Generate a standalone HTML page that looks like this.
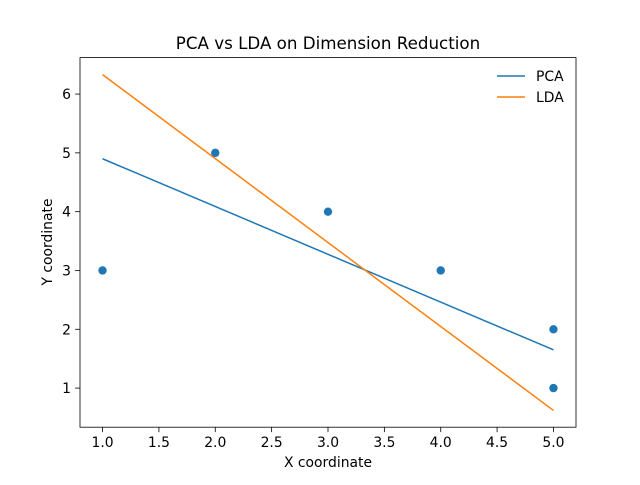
<!DOCTYPE html>
<html><head><meta charset="utf-8"><style>
body{margin:0;background:#fff;}
svg{font-family:"DejaVu Sans","Liberation Sans",sans-serif;}
</style></head><body>
<svg id="chart" width="640" height="480" xmlns="http://www.w3.org/2000/svg">
<rect width="640" height="480" fill="#fff"/>
<text x="328" y="49" font-size="16.7" text-anchor="middle">PCA vs LDA on Dimension Reduction</text>
<g id="plot"></g>
<rect x="80" y="57.6" width="496" height="369.6" fill="none" stroke="#000" stroke-width="0.8"/>
<text x="328" y="467" font-size="13.9" text-anchor="middle">X coordinate</text>
<text transform="translate(52,242) rotate(-90)" font-size="13.9" text-anchor="middle">Y coordinate</text>
<g>
<line x1="497" y1="76" x2="525" y2="76" stroke="#1f77b4" stroke-width="1.5"/>
<text x="536" y="81" font-size="13.9">PCA</text>
<line x1="497" y1="97" x2="525" y2="97" stroke="#ff7f0e" stroke-width="1.5"/>
<text x="536" y="102" font-size="13.9">LDA</text>
</g>
</svg>
<script>
const pointsX=[1,2,3,4,5,5];
const pointsY=[3,5,4,3,2,1];
const lineX=[1,5];
const pcaY=[4.9,1.65];
const ldaY=[6.33,0.62];
const xTicks=[1.0,1.5,2.0,2.5,3.0,3.5,4.0,4.5,5.0];
const yTicks=[1,2,3,4,5,6];
const L=80,R=576,T=57.6,B=427.2,x0=0.8,x1=5.2,y0=0.335,y1=6.62;
const sx=v=>L+(v-x0)/(x1-x0)*(R-L);
const sy=v=>B-(v-y0)/(y1-y0)*(B-T);
const g=document.getElementById('plot');
const NS='http://www.w3.org/2000/svg';
function mk(t,a){const e=document.createElementNS(NS,t);for(const k in a)e.setAttribute(k,a[k]);g.appendChild(e);return e;}
xTicks.forEach(v=>{
 const l=mk('line',{x1:sx(v),x2:sx(v),y1:B,y2:B+4.9,stroke:'#000','stroke-width':0.8});
 
 
 const t=mk('text',{x:sx(v),y:B+20,'font-size':13.9,'text-anchor':'middle'});t.textContent=v.toFixed(1);
 
 
});
yTicks.forEach(v=>{
 const l=mk('line',{x1:L-4.9,x2:L,y1:sy(v),y2:sy(v),stroke:'#000','stroke-width':0.8});
 
 
 const t=mk('text',{x:L-9,y:sy(v)+5,'font-size':13.9,'text-anchor':'end'});t.textContent=v;
 
 
});
pointsX.forEach((v,i)=>{
 const c=mk('circle',{cx:sx(v),cy:sy(pointsY[i]),r:4.2,fill:'#1f77b4'});
 
 
});
const p=mk('polyline',{points:lineX.map((v,i)=>sx(v)+','+sy(pcaY[i])).join(' '),fill:'none',stroke:'#1f77b4','stroke-width':1.5});


const q=mk('polyline',{points:lineX.map((v,i)=>sx(v)+','+sy(ldaY[i])).join(' '),fill:'none',stroke:'#ff7f0e','stroke-width':1.5});


</script>
</body></html>
